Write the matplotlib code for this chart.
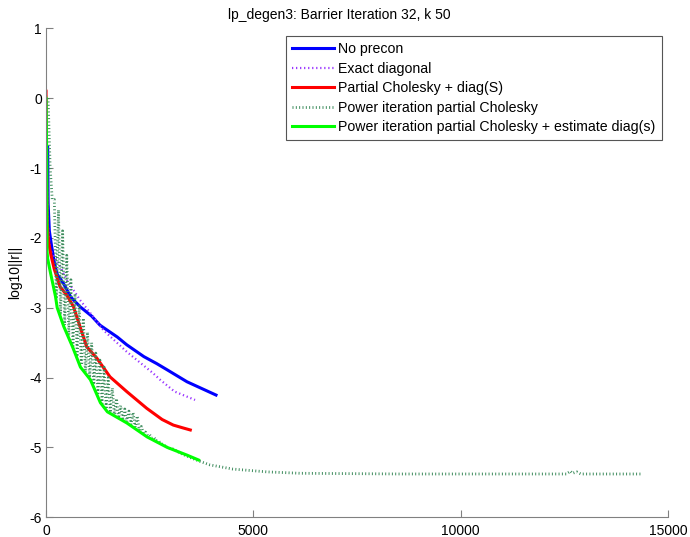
import numpy as np
import matplotlib
matplotlib.use("Agg")
import matplotlib.pyplot as plt

plt.rcParams['font.family'] = ['Liberation Sans', 'DejaVu Sans']
plt.rcParams['axes.unicode_minus'] = False
plt.rcParams['lines.scale_dashes'] = False

# No precon
blue_x = [40, 50, 80, 130, 200, 270, 418, 600, 830, 1100, 1302, 1720, 1946, 2360, 2670, 2925, 3400, 4100]
blue_y = [-0.7, -1.5, -1.9, -2.1, -2.35, -2.52, -2.65, -2.85, -2.99, -3.12, -3.25, -3.42, -3.53, -3.7, -3.8, -3.89, -4.06, -4.25]

# Exact diagonal
purple_x = [0, 15, 40, 96, 258, 400, 500, 820, 1100, 1382, 1946, 2588, 2750, 3100, 3594]
purple_y = [0.1, -1.0, -1.8, -2.17, -2.32, -2.48, -2.6, -2.89, -3.1, -3.32, -3.63, -3.94, -4.03, -4.2, -4.32]

# Partial Cholesky + diag(S)
red_x = [0, 5, 15, 30, 60, 120, 200, 338, 500, 659, 820, 981, 1223, 1544, 1946, 2429, 2800, 3070, 3300, 3480]
red_y = [0.1, -0.5, -1.3, -1.8, -2.05, -2.25, -2.45, -2.7, -2.82, -2.98, -3.27, -3.56, -3.72, -3.99, -4.2, -4.44, -4.6, -4.68, -4.72, -4.75]

# Power iteration partial Cholesky (oscillating, read as upper/lower turning points)
pw_x = [50, 100, 150,
        200, 250, 300, 350, 400, 450, 500, 550, 600, 650, 700, 750, 800, 850, 900, 950,
        1000, 1050, 1100, 1150, 1200, 1250, 1300, 1350, 1400, 1450, 1500, 1550, 1600, 1650,
        1700, 1750, 1800, 1850, 1900, 1950, 2000, 2050, 2100, 2150, 2200, 2250, 2300, 2350,
        2400, 2450, 2500, 2550, 2600, 2650, 2700, 2750, 2800, 2850, 2900, 2950, 3000, 3050,
        3300, 3500, 3714, 3955, 4510, 5330, 6127, 8540, 11000, 12550, 12650, 12700, 12800,
        12900, 14380]
pw_y = [0.0, -1.0, -1.45,
        -1.45, -2.87, -1.6, -3.1, -1.9, -3.25, -2.25, -3.4, -2.6, -3.55, -2.8, -3.7, -2.95, -3.82, -3.15, -3.92,
        -3.35, -4.0, -3.5, -4.1, -3.65, -4.25, -3.75, -4.37, -3.85, -4.45, -4.0, -4.5, -4.15, -4.55,
        -4.3, -4.58, -4.4, -4.61, -4.45, -4.63, -4.48, -4.67, -4.5, -4.71, -4.55, -4.75, -4.7, -4.8,
        -4.78, -4.83, -4.82, -4.86, -4.85, -4.9, -4.9, -4.93, -4.95, -4.96, -5.0, -4.99, -5.02, -5.02,
        -5.1, -5.15, -5.2, -5.25, -5.31, -5.35, -5.37, -5.38, -5.38, -5.38, -5.34, -5.37, -5.35,
        -5.38, -5.38]

# Power iteration partial Cholesky + estimate diag(s)
green_x = [0, 20, 25, 40, 108, 229, 270, 429, 640, 830, 1070, 1312, 1480, 1950, 2440, 2925, 3400, 3680]
green_y = [0.0, -1.0, -2.2, -2.3, -2.5, -2.84, -3.0, -3.27, -3.56, -3.85, -4.03, -4.36, -4.49, -4.65, -4.85, -5.0, -5.11, -5.18]

labels = ["No precon", "Exact diagonal", "Partial Cholesky + diag(S)",
          "Power iteration partial Cholesky",
          "Power iteration partial Cholesky + estimate diag(s)"]

fig = plt.figure(figsize=(6.9, 5.37), dpi=100)
ax = fig.add_axes([0.0667, 0.0367, 0.9013, 0.9106])

ax.plot(blue_x, blue_y, color='#0000ff', lw=2.2, label=labels[0])
ax.plot(purple_x, purple_y, color='#9933ff', lw=1.6, ls=(0, (0.9, 2.0)),
        dash_capstyle='butt', label=labels[1])
ax.plot(red_x, red_y, color='#ff0000', lw=2.2, label=labels[2])
ax.plot(pw_x, pw_y, color='#3a8a5a', lw=2.0, ls=(0, (0.7, 1.7)),
        dash_capstyle='butt', label=labels[3])
ax.plot(green_x, green_y, color='#00ff00', lw=2.2, label=labels[4])

ax.set_xlim(0, 15000)
ax.set_ylim(-6, 1)
ax.set_xticks([0, 5000, 10000, 15000])
ax.set_yticks(np.arange(-6, 2, 1))
ax.set_title("lp_degen3: Barrier Iteration 32, k 50", fontsize=10, pad=7, x=0.472)
ax.set_ylabel("log10||r||", fontsize=10, labelpad=5)

for s in ['top', 'right']:
    ax.spines[s].set_visible(False)
for s in ['left', 'bottom']:
    ax.spines[s].set_color('#808080')
ax.tick_params(direction='in', length=5, color='#808080', labelsize=10)
ax.tick_params(axis='y', pad=3)
ax.tick_params(axis='x', pad=5)

leg = ax.legend(loc='upper right', bbox_to_anchor=(662 / 690, 1 - 36 / 537),
                bbox_transform=fig.transFigure, fontsize=10.2, fancybox=False,
                framealpha=1, edgecolor='#555555', handlelength=2.95,
                handletextpad=0.3, labelspacing=0.38, borderaxespad=0, borderpad=0.45)
leg.get_frame().set_linewidth(0.8)

fig.savefig("out.png", dpi=100)
